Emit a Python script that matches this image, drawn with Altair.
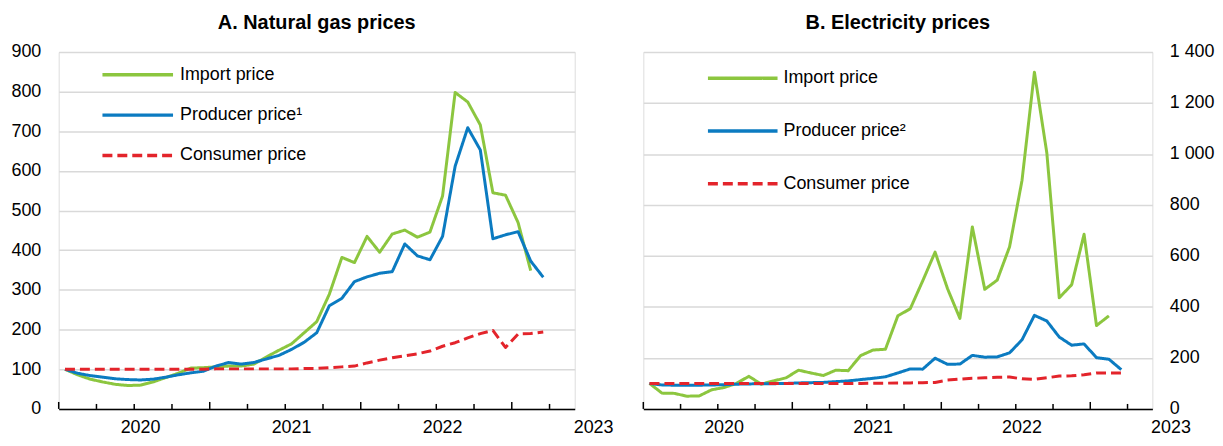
import altair as alt
import pandas as pd

FONT = "Liberation Sans, Arial, sans-serif"

# Monthly observations, July 2019 to September 2022 (index 0 = 2019-07)
months = [str(p) for p in pd.period_range("2019-07", "2022-09", freq="M")]

# Panel A: natural gas prices (index)
gas_import = [100, 86, 75, 68, 62, 59, 60, 68, 79, 90, 103, 104, 106, 108, 108, 113,
              131, 148, 164, 192, 220, 289, 382, 369, 435, 395, 441, 451, 433, 446,
              537, 798, 774, 716, 545, 539, 470, 349]
gas_producer = [100, 90, 84, 80, 76, 74, 73, 75, 80, 86, 91, 95, 108, 117, 113, 117,
                126, 135, 150, 168, 192, 260, 279, 321, 333, 342, 346, 416, 386, 376,
                435, 612, 709, 653, 429, 439, 447, 373, 332]
gas_consumer = [100, 100, 100, 100, 100, 100, 100, 100, 100, 100, 100, 100, 101, 101,
                101, 101, 101, 101, 101, 102, 102, 104, 106, 108, 116, 123, 129, 134,
                139, 146, 158, 167, 179, 190, 198, 155, 189, 190, 194]

# Panel B: electricity prices (index)
elec_import = [100, 62, 61, 50, 51, 75, 84, 100, 128, 97, 110, 122, 152, 141, 131, 152,
               150, 209, 231, 234, 365, 393, 502, 615, 472, 355, 714, 469, 505, 636,
               896, 1321, 1004, 436, 487, 685, 327, 365]
elec_producer = [100, 94, 93, 93, 93, 94, 95, 97, 98, 99, 99, 100, 102, 103, 104, 107,
                 110, 115, 120, 126, 141, 157, 156, 199, 175, 176, 210, 203, 204, 220,
                 271, 367, 345, 282, 250, 255, 201, 195, 154]
elec_consumer = [100, 100, 100, 100, 100, 100, 100, 100, 100, 100, 100, 100, 100, 100,
                 100, 100, 100, 100, 101, 101, 102, 102, 103, 104, 113, 117, 120, 122,
                 124, 125, 118, 116, 122, 129, 130, 134, 141, 141, 141]

gas_labels = ["Import price", "Producer price\u00b9", "Consumer price"]
elec_labels = ["Import price", "Producer price\u00b2", "Consumer price"]

year_labels = ["2020", "2021", "2022", "2023"]
year_pos = [6, 18, 30, 42]          # January of each year
tick_pos = [-0.5 + 3 * k for k in range(14)]   # quarter boundaries
major_tick_pos = [p for k, p in enumerate(tick_pos) if k % 4 == 0]
minor_tick_pos = [p for k, p in enumerate(tick_pos) if k % 4 != 0]

GREEN = "#8cc63f"
BLUE = "#0b7bc1"
RED = "#e3242b"
colors = [GREEN, BLUE, RED]
dashes = [[1, 0], [1, 0], [10, 5]]

X_DOMAIN = [-0.5, 40.5]
FS = 18


def xenc():
    return alt.X("t:Q", scale=alt.Scale(domain=X_DOMAIN, nice=False, zero=False),
                 axis=alt.Axis(domain=True, domainColor="black", domainWidth=1.5,
                               ticks=False, labels=False, grid=False, title=None))


def series_df(values):
    return pd.DataFrame({"month": months[:len(values)], "t": list(range(len(values))),
                         "value": values})


def panel(title, series, labels, ymax, ystep, orient, W, H, leg_x0, leg_x1, leg_tx,
          leg_y0, leg_gap, title_offset):
    common = dict(values=list(range(0, ymax + 1, ystep)), grid=True,
                  gridColor="#d9d9d9", gridWidth=1.5, domain=False, ticks=False,
                  labelFontSize=FS, labelFont=FONT, labelColor="black", title=None)
    if orient == "left":
        yaxis = alt.Axis(labelPadding=18, orient="left", **common)
    else:
        yaxis = alt.Axis(labelPadding=17, orient="right", labelAlign="left",
                         labelExpr="replace(format(datum.value, ','), ',', ' ')",
                         **common)
    yenc = alt.Y("value:Q", scale=alt.Scale(domain=[0, ymax], nice=False), axis=yaxis)

    layers = []
    for vals, col, dash in zip(series, colors, dashes):
        layers.append(
            alt.Chart(series_df(vals)).mark_line(color=col, strokeWidth=3,
                                                 strokeDash=dash, strokeCap="butt",
                                                 strokeJoin="round")
            .encode(x=xenc(), y=yenc)
        )

    # inward tick marks on the horizontal axis
    for pos, size in ((major_tick_pos, 7), (minor_tick_pos, 5)):
        layers.append(
            alt.Chart(pd.DataFrame({"t": pos})).mark_rule(color="black", strokeWidth=1.5)
            .encode(x=xenc(), y=alt.value(H), y2=alt.value(H - size))
        )

    # year labels
    layers.append(
        alt.Chart(pd.DataFrame({"t": year_pos, "label": year_labels}))
        .mark_text(font=FONT, fontSize=FS, color="black", align="center",
                   baseline="alphabetic")
        .encode(x=xenc(), y=alt.value(H + 24), text="label:N")
    )

    # legend
    for k, (lab, col, dash) in enumerate(zip(labels, colors, dashes)):
        yy = leg_y0 + k * leg_gap
        one = pd.DataFrame({"label": [lab]})
        layers.append(
            alt.Chart(one).mark_rule(color=col, strokeWidth=3.5, strokeDash=dash,
                                     strokeCap="butt")
            .encode(x=alt.value(leg_x0), x2=alt.value(leg_x1), y=alt.value(yy))
        )
        layers.append(
            alt.Chart(one).mark_text(font=FONT, fontSize=FS, color="black",
                                     align="left", baseline="middle")
            .encode(x=alt.value(leg_tx), y=alt.value(yy), text="label:N")
        )

    return alt.layer(*layers).properties(
        width=W, height=H,
        title=alt.Title(title, font=FONT, fontSize=20, fontWeight="bold", color="black",
                        anchor="middle", offset=title_offset),
    )


H = 359
pa = panel("A. Natural gas prices", [gas_import, gas_producer, gas_consumer], gas_labels,
           900, 100, "left", 519, H, 44, 115, 122, 23, 40.5, 10)
pb = panel("B. Electricity prices", [elec_import, elec_producer, elec_consumer],
           elec_labels, 1400, 200, "right", 512, H, 65, 135, 141, 26.5, 53, 10)

chart = alt.hconcat(pa, pb, spacing=69, bounds="flush").properties(
    padding={"left": 2, "top": 3, "right": 0, "bottom": 0}
).configure_view(stroke=None).configure(font=FONT)

chart.save("out.html", embed_options={"renderer": "svg", "actions": False})
